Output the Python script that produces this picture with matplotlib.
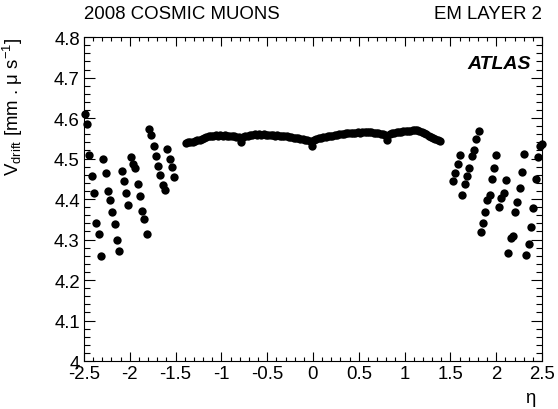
import numpy as np
import matplotlib
matplotlib.use('Agg')
import matplotlib.pyplot as plt
from matplotlib.ticker import MultipleLocator, FuncFormatter

plt.rcParams['font.family'] = ['Liberation Sans', 'DejaVu Sans']
plt.rcParams['mathtext.fontset'] = 'custom'
plt.rcParams['mathtext.rm'] = 'Liberation Sans'
plt.rcParams['mathtext.it'] = 'Liberation Sans:italic'
plt.rcParams['axes.unicode_minus'] = False

# ----- endcap, negative side -----
eta_ecc = [-2.49, -2.465, -2.44, -2.415, -2.39, -2.365, -2.34, -2.315,
           -2.29, -2.265, -2.24, -2.215, -2.19, -2.165, -2.14, -2.115,
           -2.09, -2.065, -2.04, -2.015, -1.99, -1.965, -1.94, -1.915,
           -1.89, -1.865, -1.84, -1.815, -1.79, -1.765, -1.74, -1.715,
           -1.69, -1.665, -1.64, -1.615, -1.59, -1.565, -1.54, -1.515]
vd_ecc = [4.610, 4.585, 4.509, 4.457, 4.414, 4.342, 4.314, 4.260,
          4.498, 4.465, 4.420, 4.397, 4.369, 4.339, 4.300, 4.272,
          4.469, 4.444, 4.414, 4.386, 4.505, 4.486, 4.476, 4.437,
          4.408, 4.370, 4.350, 4.314, 4.573, 4.558, 4.531, 4.506,
          4.481, 4.459, 4.436, 4.423, 4.523, 4.500, 4.478, 4.455]

# ----- barrel -----
eta_bar = np.arange(-1.3875, 1.39, 0.025)
vd_bar = [4.539, 4.540, 4.541, 4.542, 4.544, 4.546, 4.547, 4.549,
          4.551, 4.553, 4.555, 4.556, 4.557, 4.558, 4.557, 4.558,
          4.557, 4.558, 4.556, 4.557, 4.555, 4.556, 4.554, 4.553,
          4.541, 4.553, 4.555, 4.557, 4.558, 4.559, 4.560, 4.559,
          4.560, 4.559, 4.561, 4.559, 4.558, 4.559, 4.558, 4.557,
          4.558, 4.556, 4.557, 4.555, 4.556, 4.554, 4.553, 4.552,
          4.551, 4.550, 4.549, 4.548, 4.546, 4.545, 4.544, 4.532,
          4.547, 4.549, 4.550, 4.551, 4.553, 4.554, 4.555, 4.556,
          4.557, 4.558, 4.559, 4.560, 4.561, 4.561, 4.562, 4.563,
          4.562, 4.564, 4.563, 4.565, 4.564, 4.566, 4.565, 4.566,
          4.565, 4.566, 4.564, 4.563, 4.562, 4.561, 4.560, 4.559,
          4.545, 4.561, 4.563, 4.564, 4.565, 4.566, 4.566, 4.567,
          4.567, 4.568, 4.569, 4.570, 4.571, 4.571, 4.569, 4.566,
          4.562, 4.560, 4.557, 4.554, 4.552, 4.549, 4.547, 4.544]

# ----- endcap, positive side -----
eta_eca = [1.53, 1.555, 1.58, 1.605, 1.63, 1.657, 1.68, 1.708,
           1.733, 1.755, 1.78, 1.808, 1.83, 1.855, 1.88, 1.905,
           1.93, 1.953, 1.977, 2.0, 2.03, 2.055, 2.08, 2.105,
           2.13, 2.157, 2.18, 2.21, 2.232, 2.258, 2.28, 2.305,
           2.33, 2.355, 2.38, 2.405, 2.43, 2.452, 2.475, 2.498]
vd_eca = [4.445, 4.464, 4.487, 4.510, 4.410, 4.437, 4.456, 4.477,
          4.507, 4.520, 4.549, 4.567, 4.319, 4.341, 4.369, 4.398,
          4.411, 4.450, 4.477, 4.509, 4.380, 4.403, 4.415, 4.448,
          4.267, 4.304, 4.309, 4.369, 4.394, 4.428, 4.467, 4.511,
          4.261, 4.288, 4.332, 4.377, 4.449, 4.504, 4.532, 4.536]

fig = plt.figure(figsize=(5.58, 4.10), dpi=100)
ax = fig.add_axes([0.1505, 0.117, 0.8208, 0.790])

for ee, vv in [(eta_ecc, vd_ecc), (eta_bar, vd_bar), (eta_eca, vd_eca)]:
    ax.plot(ee, vv, 'o', color='black', ms=6.0, mec='black', mew=0, clip_on=False)

ax.set_xlim(-2.5, 2.5)
ax.set_ylim(4.0, 4.8)
ax.xaxis.set_major_locator(MultipleLocator(0.5))
ax.xaxis.set_minor_locator(MultipleLocator(0.1))
ax.yaxis.set_major_locator(MultipleLocator(0.1))
ax.yaxis.set_minor_locator(MultipleLocator(0.02))
fmt = FuncFormatter(lambda v, p: '%g' % round(v, 2))
ax.xaxis.set_major_formatter(fmt)
ax.yaxis.set_major_formatter(fmt)
ax.tick_params(axis='both', which='both', direction='in', top=True, right=True,
               labelsize=13.4, width=0.8, color='black')
ax.tick_params(axis='x', which='major', length=6.5, pad=3)
ax.tick_params(axis='x', which='minor', length=3.2)
ax.tick_params(axis='y', which='major', length=8, pad=3)
ax.tick_params(axis='y', which='minor', length=4.3)
for sp in ax.spines.values():
    sp.set_linewidth(0.8)

ax.set_ylabel('V$_{\\rm drift}$ [mm . μ s$^{-1}$]', fontsize=13.4, loc='top')
ax.yaxis.set_label_coords(-0.128, 1.0)
ax.set_xlabel('η', fontsize=13.4, loc='right')
ax.xaxis.set_label_coords(0.985, -0.085)

fig.text(0.1505, 0.945, '2008 COSMIC MUONS', fontsize=13.4, ha='left', va='bottom')
fig.text(0.9713, 0.945, 'EM LAYER 2', fontsize=13.4, ha='right', va='bottom')
ax.text(0.975, 0.92, 'ATLAS', transform=ax.transAxes, fontsize=14, fontweight='bold',
        fontstyle='italic', ha='right', va='center')

fig.savefig('out.png', dpi=100)
